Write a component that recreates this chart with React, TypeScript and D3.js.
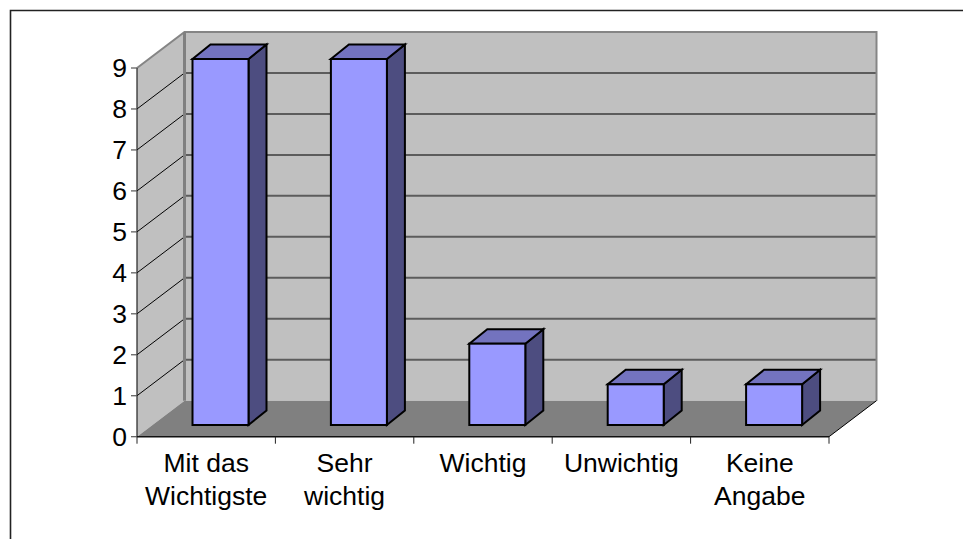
import React from "react";
import * as d3 from "d3";

const categories = [["Mit das", "Wichtigste"], ["Sehr", "wichtig"], ["Wichtig"], ["Unwichtig"], ["Keine", "Angabe"]];
const values = [9, 9, 2, 1, 1];
const yTicks = [0, 1, 2, 3, 4, 5, 6, 7, 8, 9];

const W = 963, H = 539;
const x0 = 137, x1 = 829, y0 = 436.7, y9 = 68;
const DX = 47.5, DY = -36;
const FONT = "'Liberation Sans', Arial, sans-serif";

const y = d3.scaleLinear().domain([0, 9]).range([y0, y9]);
const barH = d3.scaleLinear().domain([0, 9]).range([0, 366]);
const xBand = d3.scaleBand<number>().domain(d3.range(categories.length)).range([x0, x1]);
const poly = d3.line<[number, number]>();

const barW = 56, barDX = 18, barDY = -14.5, barShiftX = 14.3, barBottom = 425;

export default function App() {
  return (
    <svg width={W} height={H} style={{ position: "absolute", left: 0, top: 0, background: "#fff" }} fontFamily={FONT}>
      <path d={`M10.5 ${H}V10.5H${W}`} fill="none" stroke="#222" strokeWidth={1.6} />
      {/* walls */}
      <path d={poly([[x0, y9], [x0 + DX, y9 + DY], [x0 + DX, y0 + DY], [x0, y0]])! + "Z"} fill="#c0c0c0" />
      <rect x={x0 + DX} y={y9 + DY} width={x1 - x0} height={y0 - y9} fill="#c0c0c0" />
      <path d={poly([[x0, y0], [x0 + DX, y0 + DY], [x1 + DX, y0 + DY], [x1, y0]])! + "Z"} fill="#808080" />
      {yTicks.slice(1, -1).map(t => (
        <g key={t}>
          <line x1={x0 + DX} x2={x1 + DX} y1={y(t) + DY} y2={y(t) + DY} stroke="#5c5c5c" strokeWidth={2} />
          <line x1={x0} x2={x0 + DX} y1={y(t)} y2={y(t) + DY} stroke="#000" strokeWidth={1} />
        </g>
      ))}
      <path d={`M${x0} ${y9}L${x0 + DX} ${y9 + DY}H${x1 + DX}V${y0 + DY}`} fill="none" stroke="#858585" strokeWidth={2} />
      <line x1={x0 + DX} x2={x0 + DX} y1={y9 + DY} y2={y0 + DY} stroke="#808080" strokeWidth={3} />
      {/* axes */}
      <line x1={x0} x2={x0} y1={y9} y2={y0} stroke="#222" strokeWidth={1.2} />
      <line x1={x0} x2={x1} y1={y0} y2={y0} stroke="#111" strokeWidth={1.4} />
      <line x1={x1} x2={x1 + DX} y1={y0} y2={y0 + DY} stroke="#000" strokeWidth={1} />
      {yTicks.map(t => (
        <g key={t}>
          <line x1={x0 - 6} x2={x0} y1={y(t)} y2={y(t)} stroke="#555" strokeWidth={1.2} />
          <text x={127} y={y(t) + 9} fontSize={26.5} textAnchor="end" fill="#000">{t}</text>
        </g>
      ))}
      {d3.range(categories.length + 1).map(i => {
        const tx = x0 + i * xBand.bandwidth();
        return <line key={i} x1={tx} x2={tx} y1={y0} y2={y0 + 7} stroke="#222" strokeWidth={1} />;
      })}
      {categories.map((lines, i) => (
        <text key={i} textAnchor="middle" fontSize={26.5} fill="#000">
          {lines.map((l, j) => (
            <tspan key={j} x={xBand(i)! + xBand.bandwidth() / 2} y={472 + j * 33}>{l}</tspan>
          ))}
        </text>
      ))}
      {/* bars */}
      {values.map((v, i) => {
        const left = xBand(i)! + xBand.bandwidth() / 2 + barShiftX - barW / 2;
        const right = left + barW;
        const top = barBottom - barH(v);
        return (
          <g key={i} stroke="#000" strokeWidth={2} strokeLinejoin="miter">
            <path d={poly([[right, top], [right + barDX, top + barDY], [right + barDX, barBottom + barDY], [right, barBottom]])! + "Z"} fill="#4d4d80" />
            <path d={poly([[left, top], [left + barDX, top + barDY], [right + barDX, top + barDY], [right, top]])! + "Z"} fill="#7373bf" />
            <rect x={left} y={top} width={barW} height={barH(v)} fill="#9999ff" />
          </g>
        );
      })}
    </svg>
  );
}
